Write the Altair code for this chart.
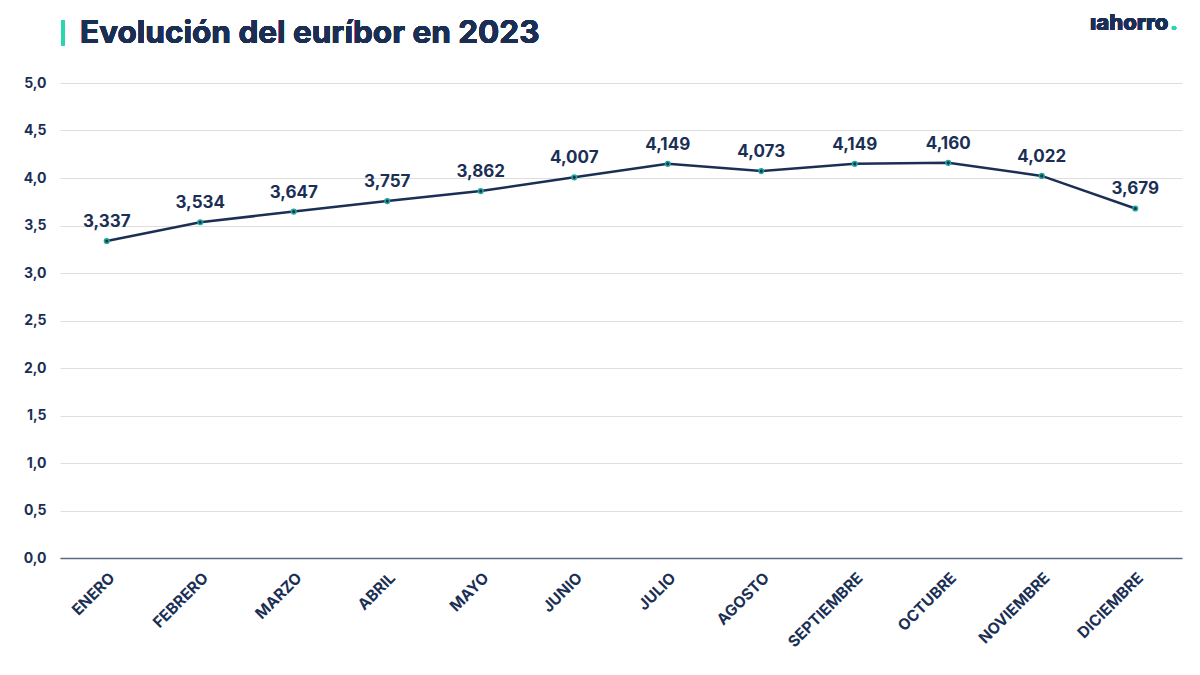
import altair as alt
import pandas as pd

months = ["ENERO", "FEBRERO", "MARZO", "ABRIL", "MAYO", "JUNIO", "JULIO",
          "AGOSTO", "SEPTIEMBRE", "OCTUBRE", "NOVIEMBRE", "DICIEMBRE"]
values = [3.337, 3.534, 3.647, 3.757, 3.862, 4.007, 4.149, 4.073, 4.149, 4.160, 4.022, 3.679]

df = pd.DataFrame({"mes": months, "valor": values})

DARK = "#1b2f55"
TEAL = "#2dd4b0"
FONT = "Inter"

x = alt.X("mes:N", sort=months, title=None,
          scale=alt.Scale(paddingInner=1, paddingOuter=0.5),
          axis=alt.Axis(labelAngle=-45, labelFontSize=15.5, labelFontWeight="bold",
                        labelColor=DARK, labelFont=FONT, ticks=False, labelPadding=12,
                        domainColor="#5a6a85", domainWidth=1.5, grid=False))
y = alt.Y("valor:Q", title=None,
          scale=alt.Scale(domain=[0, 5]),
          axis=alt.Axis(values=[0, 0.5, 1, 1.5, 2, 2.5, 3, 3.5, 4, 4.5, 5],
                        labelExpr="replace(format(datum.value, '.1f'), '.', ',')",
                        labelFontSize=14, labelFontWeight="bold", labelColor=DARK,
                        labelFont=FONT, ticks=False, domain=False, labelPadding=14,
                        gridColor="#dedede", gridWidth=1))

base = alt.Chart(df).encode(x=x, y=y)

line = base.mark_line(color=DARK, strokeWidth=2.5)
points = base.mark_point(filled=True, color=DARK, stroke="#1fa99a", strokeWidth=1.5,
                         size=22, opacity=1)
labels = base.transform_calculate(
    lab="replace(format(datum.valor, '.3f'), '.', ',')"
).mark_text(dy=-10, baseline="bottom", fontSize=17, fontWeight="bold",
            color=DARK, font=FONT).encode(text="lab:N")

bar = alt.Chart(df).mark_rule(color=TEAL, strokeWidth=3).encode(
    x=alt.value(3), y=alt.value(-63), y2=alt.value(-37))
title = alt.Chart(df).mark_text(align="left", baseline="alphabetic", fontSize=31.5,
                                fontWeight="bold", color=DARK, font=FONT).encode(
    x=alt.value(20), y=alt.value(-40), text=alt.value("Evolución del euríbor en 2023"))
logo = alt.Chart(df).mark_text(align="left", baseline="alphabetic", fontSize=22,
                               fontWeight=800, color=DARK, font=FONT).encode(
    x=alt.value(1030), y=alt.value(-53), text=alt.value("ıahorro"))
dot = alt.Chart(df).mark_text(align="left", baseline="alphabetic", fontSize=22,
                              fontWeight=800, color=TEAL, font=FONT).encode(
    x=alt.value(1110), y=alt.value(-53), text=alt.value("."))

chart = alt.layer(line, points, labels, bar, title, logo, dot).properties(
    width=1122, height=475,
    autosize=alt.AutoSizeParams(type="none"),
    padding={"left": 52, "top": 75, "right": 10, "bottom": 120},
).configure_view(stroke=None)

chart.save("out.html", embed_options={"renderer": "svg", "actions": False})
